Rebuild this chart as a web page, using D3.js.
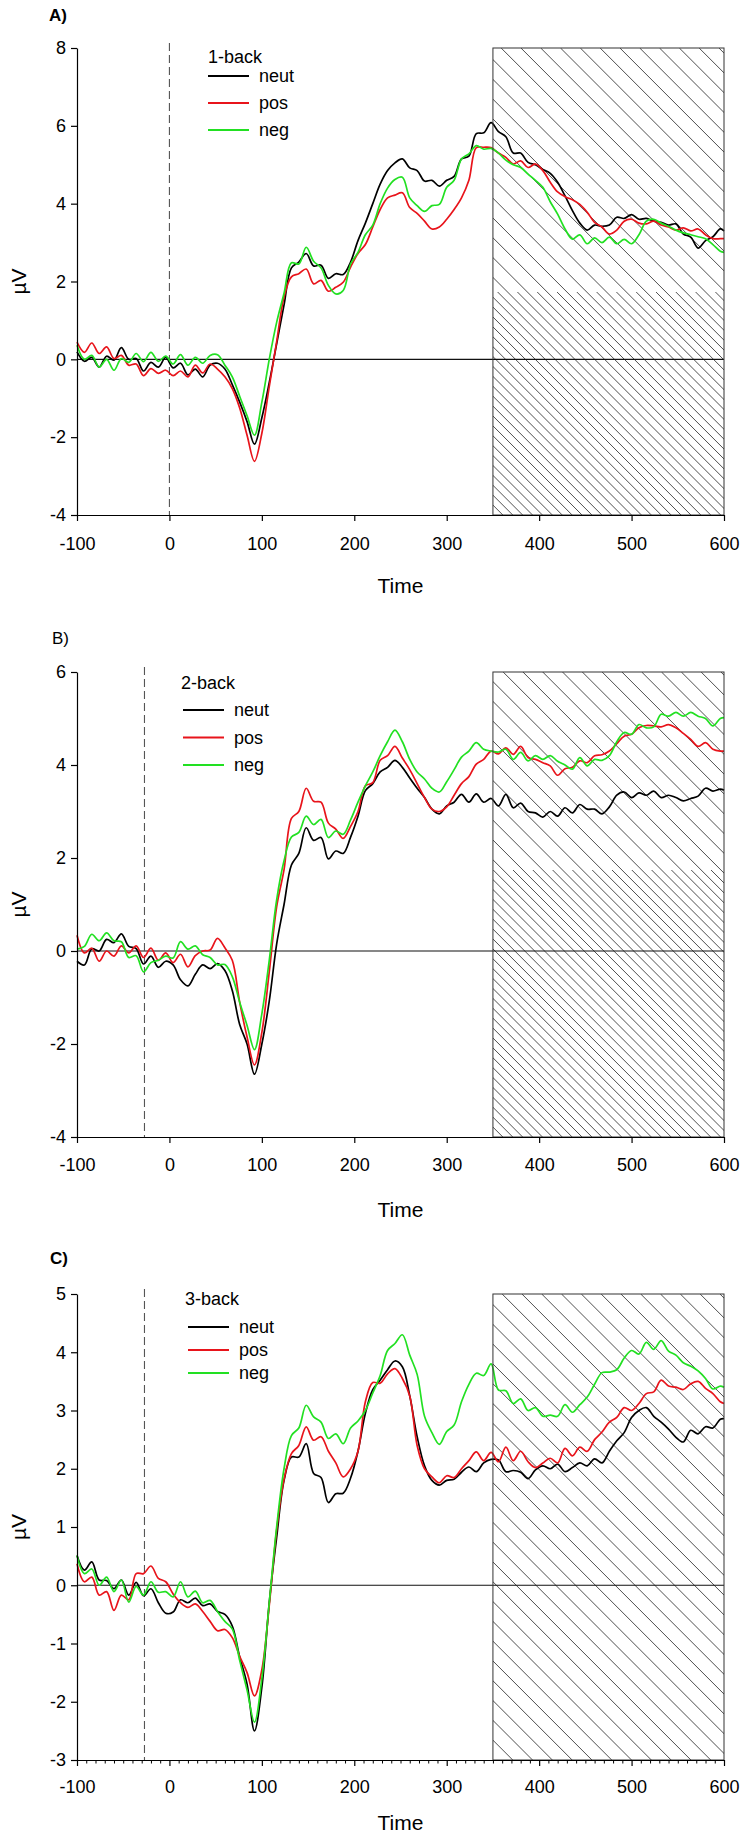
<!DOCTYPE html>
<html><head><meta charset="utf-8">
<script src="https://cdn.jsdelivr.net/npm/d3@7"></script>
<style>
body{margin:0;background:#fff}
svg{display:block}
text{font-family:"Liberation Sans",Arial,Helvetica,sans-serif;fill:#000}
</style>
</head><body>
<svg id="chart" width="746" height="1839"></svg>
<script>
// ---------------- DATA ----------------
const times = [
 -100,-92,-84,-76,-68,-60,-52,-44,
 -36,-28,-20,-12,-4,4,12,20,
 28,36,44,52,60,68,76,84,
 92,100,108,116,124,132,140,148,
 156,164,172,180,188,196,204,212,
 220,228,236,244,252,260,268,276,
 284,292,300,308,316,324,332,340,
 348,356,364,372,380,388,396,404,
 412,420,428,436,444,452,460,468,
 476,484,492,500,508,516,524,532,
 540,548,556,564,572,580,588,596,
 600];

// Panel A: 1-back
const oneBackNeut = [
 0.19,-0.05,0.05,-0.2,0.08,-0.02,0.30,0.0,
 0.02,-0.30,-0.08,-0.20,0.05,-0.22,-0.10,-0.40,
 -0.25,-0.45,-0.15,-0.10,-0.25,-0.65,-1.1,-1.6,
 -2.18,-1.5,-0.6,0.4,1.4,2.35,2.5,2.72,
 2.4,2.42,2.08,2.2,2.18,2.5,3.05,3.5,
 4.0,4.5,4.85,5.05,5.15,4.92,4.85,4.58,
 4.6,4.45,4.6,4.7,5.15,5.22,5.8,5.82,
 6.08,5.85,5.72,5.3,5.3,5.06,5.0,4.88,
 4.78,4.55,4.2,3.82,3.5,3.32,3.45,3.42,
 3.45,3.65,3.62,3.72,3.6,3.62,3.55,3.52,
 3.45,3.48,3.22,3.14,2.86,3.05,3.15,3.35,
 3.3];
const oneBackPos = [
 0.44,0.18,0.42,0.15,0.32,0.02,0.10,-0.15,
 -0.12,-0.42,-0.24,-0.36,-0.28,-0.42,-0.30,-0.45,
 -0.15,-0.35,-0.12,-0.25,-0.45,-0.75,-1.25,-1.95,
 -2.62,-1.9,-0.7,0.45,1.6,2.12,2.2,2.32,
 1.94,2.03,1.75,1.85,1.98,2.37,2.72,2.95,
 3.4,3.85,4.15,4.22,4.28,3.9,3.75,3.55,
 3.35,3.4,3.6,3.85,4.15,4.6,5.44,5.45,
 5.44,5.3,5.19,5.02,5.1,4.93,5.02,4.85,
 4.55,4.3,4.18,4.1,3.98,3.78,3.52,3.4,
 3.22,3.32,3.55,3.6,3.5,3.48,3.55,3.45,
 3.4,3.32,3.38,3.3,3.35,3.2,3.1,3.1,
 3.1];
const oneBackNeg = [
 0.36,0.0,0.10,-0.20,0.0,-0.28,0.02,-0.08,
 0.15,-0.06,0.18,-0.05,0.08,-0.12,0.12,-0.15,
 0.05,-0.10,0.10,0.12,-0.15,-0.45,-0.95,-1.45,
 -1.95,-1.1,0.0,0.95,1.7,2.48,2.45,2.88,
 2.52,2.35,1.9,1.68,1.77,2.45,2.75,3.2,
 3.45,4.0,4.4,4.62,4.68,4.15,3.95,3.8,
 3.95,3.98,4.42,4.6,5.15,5.28,5.49,5.4,
 5.42,5.3,5.12,5.0,4.93,4.76,4.6,4.42,
 4.05,3.73,3.35,3.09,3.2,2.97,3.12,3.0,
 3.14,2.97,3.08,2.97,3.2,3.55,3.6,3.5,
 3.42,3.32,3.25,3.2,3.15,3.1,2.95,2.78,
 2.75];

// Panel B: 2-back
const twoBackNeut = [
 -0.22,-0.3,0.05,0.0,0.25,0.18,0.37,0.1,
 0.05,-0.28,-0.11,-0.35,-0.22,-0.3,-0.62,-0.75,
 -0.5,-0.3,-0.38,-0.27,-0.42,-0.85,-1.58,-2.0,
 -2.65,-2.0,-1.08,0.15,1.0,1.85,2.1,2.65,
 2.38,2.44,1.98,2.15,2.1,2.45,2.9,3.45,
 3.6,3.85,3.95,4.1,3.95,3.72,3.5,3.3,
 3.05,2.95,3.12,3.2,3.37,3.2,3.38,3.2,
 3.28,3.12,3.37,3.08,3.18,3.0,2.97,2.88,
 3.0,2.9,3.08,2.97,3.15,3.05,3.05,2.95,
 3.1,3.35,3.42,3.3,3.4,3.35,3.44,3.3,
 3.35,3.3,3.23,3.28,3.33,3.5,3.44,3.48,
 3.46];
const twoBackPos = [
 0.34,-0.04,0.06,-0.22,0.0,-0.11,0.11,-0.04,
 0.11,-0.14,0.06,-0.2,-0.04,-0.25,-0.07,-0.34,
 -0.1,0.0,0.02,0.27,0.07,-0.2,-1.1,-1.85,
 -2.45,-1.75,-0.45,0.95,1.75,2.85,3.0,3.5,
 3.22,3.2,2.75,2.62,2.42,2.68,3.0,3.55,
 3.62,4.1,4.2,4.4,4.15,3.9,3.6,3.3,
 3.05,3.0,3.1,3.35,3.6,3.75,4.02,4.12,
 4.3,4.24,4.37,4.23,4.4,4.16,4.12,4.05,
 3.98,3.78,3.92,3.95,4.09,4.05,4.2,4.22,
 4.3,4.46,4.62,4.66,4.8,4.85,4.84,4.82,
 4.87,4.8,4.68,4.55,4.4,4.48,4.34,4.3,
 4.3];
const twoBackNeg = [
 0.04,0.1,0.36,0.22,0.39,0.22,0.2,-0.14,
 -0.1,-0.45,-0.25,-0.2,-0.11,-0.15,0.2,0.04,
 0.11,-0.08,-0.14,-0.3,-0.29,-0.55,-1.1,-1.6,
 -2.12,-1.35,-0.2,1.1,1.94,2.45,2.55,2.9,
 2.72,2.83,2.44,2.58,2.51,2.82,3.2,3.55,
 3.85,4.2,4.5,4.75,4.5,4.12,3.85,3.7,
 3.5,3.42,3.64,3.9,4.17,4.3,4.48,4.34,
 4.3,4.28,4.34,4.12,4.27,4.09,4.2,4.12,
 4.2,4.08,4.0,3.91,4.16,3.98,4.12,4.1,
 4.2,4.5,4.7,4.66,4.87,4.8,4.82,5.09,
 5.05,5.13,5.05,5.13,5.05,5.0,4.84,5.0,
 5.02];

// Panel C: 3-back
const threeBackNeut = [
 0.51,0.26,0.4,0.09,0.08,-0.06,0.09,-0.17,
 0.05,-0.18,-0.06,-0.3,-0.48,-0.46,-0.25,-0.3,
 -0.22,-0.35,-0.32,-0.45,-0.5,-0.7,-1.23,-1.7,
 -2.5,-1.75,-0.3,0.82,1.8,2.2,2.2,2.43,
 1.92,1.85,1.42,1.57,1.58,1.84,2.3,2.95,
 3.36,3.52,3.7,3.85,3.75,3.25,2.55,2.05,
 1.8,1.72,1.8,1.82,1.94,2.03,1.95,2.1,
 2.16,2.15,1.95,1.97,1.94,1.83,1.98,2.05,
 2.0,2.08,1.95,2.02,2.1,2.05,2.17,2.1,
 2.3,2.48,2.62,2.88,3.0,3.05,2.9,2.8,
 2.68,2.54,2.46,2.66,2.6,2.72,2.7,2.85,
 2.86];
const threeBackPos = [
 0.37,0.06,0.14,-0.17,-0.11,-0.43,-0.17,-0.25,
 0.2,0.2,0.33,0.12,0.06,-0.15,-0.3,-0.38,
 -0.32,-0.45,-0.62,-0.78,-0.76,-0.9,-1.22,-1.5,
 -1.9,-1.45,-0.35,0.95,1.82,2.26,2.4,2.72,
 2.49,2.55,2.3,2.1,1.86,2.0,2.3,3.15,
 3.48,3.47,3.63,3.72,3.55,3.25,2.4,2.0,
 1.86,1.76,1.88,1.85,2.0,2.14,2.29,2.14,
 2.28,2.12,2.37,2.14,2.3,2.12,2.02,2.1,
 2.18,2.1,2.35,2.22,2.37,2.3,2.5,2.63,
 2.8,2.88,3.05,3.0,3.12,3.29,3.32,3.52,
 3.42,3.4,3.36,3.46,3.5,3.38,3.29,3.15,
 3.12];
const threeBackNeg = [
 0.51,0.2,0.28,0.0,0.14,-0.11,0.09,-0.29,
 -0.02,-0.17,0.06,-0.12,-0.11,-0.2,0.06,-0.2,
 -0.1,-0.3,-0.26,-0.45,-0.62,-0.75,-1.29,-1.8,
 -2.35,-1.6,-0.3,1.0,2.0,2.57,2.7,3.09,
 2.89,2.8,2.52,2.6,2.43,2.7,2.82,3.0,
 3.3,3.6,4.03,4.15,4.3,3.95,3.62,2.9,
 2.62,2.42,2.64,2.75,3.15,3.45,3.64,3.6,
 3.8,3.35,3.34,3.12,3.2,3.0,3.05,2.9,
 2.92,2.9,3.1,2.97,3.1,3.23,3.45,3.65,
 3.66,3.7,3.9,4.03,3.97,4.17,4.05,4.2,
 4.02,3.95,3.82,3.76,3.68,3.55,3.37,3.42,
 3.4];

const seriesNames = ["neut", "pos", "neg"];
const legendTitles = ["1-back", "2-back", "3-back"];
const panelLabels = ["A)", "B)", "C)"];
const xTickValues = [-100, 0, 100, 200, 300, 400, 500, 600];
const yTicksA = [-4, -2, 0, 2, 4, 6, 8];
const yTicksB = [-4, -2, 0, 2, 4, 6];
const yTicksC = [-3, -2, -1, 0, 1, 2, 3, 4, 5];
const markerTimes = [0, -27, -27];
const shadedWindow = [350, 600];
const xLabel = "Time";
const yLabel = "µV";

// ---------------- LAYOUT / STYLE ----------------
const colors = {neut: "#000000", pos: "#e8141b", neg: "#22e022"};
const FONT = '"Liberation Sans", Arial, Helvetica, sans-serif';
const X0 = 77, X1 = 724;
// denseFrom: pixel row below which the hatch in the reference is drawn twice as dense (null = never)
const panels = [
  {data: [oneBackNeut, oneBackPos, oneBackNeg], yTicks: yTicksA, top: 48, bottom: 515,
   labelX: 49, labelY: 21, bold: true, tickPad: 16, titleY: 593, minor: false, denseFrom: 292,
   leg: {titleX: 208, titleY: 63, x: 208, len: 41, textX: 259, y0: 76, dy: 27}},
  {data: [twoBackNeut, twoBackPos, twoBackNeg], yTicks: yTicksB, top: 672, bottom: 1137,
   labelX: 52, labelY: 644, bold: false, tickPad: 15, titleY: 1217, minor: false, denseFrom: 870,
   leg: {titleX: 181, titleY: 689, x: 183, len: 41, textX: 234, y0: 710, dy: 27.5}},
  {data: [threeBackNeut, threeBackPos, threeBackNeg], yTicks: yTicksC, top: 1294, bottom: 1760,
   labelX: 50, labelY: 1264, bold: true, tickPad: 14, titleY: 1830, minor: true, denseFrom: null,
   leg: {titleX: 185, titleY: 1305, x: 188, len: 41, textX: 239, y0: 1327, dy: 23}}
];

const svg = d3.select("#chart");
const x = d3.scaleLinear().domain([-100, 600]).range([X0, X1]);
const fmt = d => String(d);   // plain hyphen-minus like the reference

panels.forEach((p, pi) => {
  const ticks = p.yTicks;
  const y = d3.scaleLinear().domain([ticks[0], ticks[ticks.length - 1]]).range([p.bottom, p.top]);
  const g = svg.append("g");

  // hatched window
  const hx0 = x(shadedWindow[0]), hx1 = x(shadedWindow[1]);
  const hy0 = y.range()[1], hy1 = y.range()[0];
  const H = hy1 - hy0, W = hx1 - hx0, sp = 19.8;
  const clipId = "clip" + pi;
  g.append("clipPath").attr("id", clipId).append("rect")
    .attr("x", hx0).attr("y", hy0).attr("width", W).attr("height", H);
  const hatch = g.append("g").attr("clip-path", `url(#${clipId})`);
  for (let c = -H; c < W; c += sp) {
    hatch.append("line")
      .attr("x1", hx0 + c).attr("y1", hy0)
      .attr("x2", hx0 + c + H).attr("y2", hy0 + H)
      .attr("stroke", "#222").attr("stroke-width", 0.8);
  }
  if (p.denseFrom !== null) {
    const clip2 = "clipd" + pi;
    g.append("clipPath").attr("id", clip2).append("rect")
      .attr("x", hx0).attr("y", p.denseFrom).attr("width", W).attr("height", hy1 - p.denseFrom);
    const dense = g.append("g").attr("clip-path", `url(#${clip2})`);
    for (let c = -H + sp / 2; c < W; c += sp) {
      dense.append("line")
        .attr("x1", hx0 + c).attr("y1", hy0)
        .attr("x2", hx0 + c + H).attr("y2", hy0 + H)
        .attr("stroke", "#222").attr("stroke-width", 0.8);
    }
  }

  // zero line
  g.append("line").attr("x1", X0).attr("x2", X1).attr("y1", y(0)).attr("y2", y(0))
    .attr("stroke", "#111").attr("stroke-width", 1.2);

  // dashed marker
  g.append("line").attr("x1", x(markerTimes[pi])).attr("x2", x(markerTimes[pi]))
    .attr("y1", p.top - 5).attr("y2", p.bottom)
    .attr("stroke", "#555").attr("stroke-width", 1.1).attr("stroke-dasharray", "8,4");

  // traces
  const line = d3.line().x(d => x(d[0])).y(d => y(d[1])).curve(d3.curveCatmullRom.alpha(0.5));
  p.data.forEach((vals, si) => {
    const pts = times.map((t, i) => [t, vals[i]]);
    g.append("path").attr("d", line(pts)).attr("fill", "none")
      .attr("stroke", colors[seriesNames[si]]).attr("stroke-width", 1.7)
      .attr("stroke-linejoin", "round");
  });

  // hatch border
  g.append("rect").attr("x", hx0).attr("y", hy0).attr("width", W).attr("height", H)
    .attr("fill", "none").attr("stroke", "#333").attr("stroke-width", 1);

  // axes
  const ya = g.append("g").attr("transform", `translate(${X0},0)`)
    .call(d3.axisLeft(y).tickValues(ticks).tickSize(6).tickSizeOuter(0).tickPadding(5).tickFormat(fmt));
  const xa = g.append("g").attr("transform", `translate(0,${p.bottom})`)
    .call(d3.axisBottom(x).tickValues(xTickValues).tickSize(6).tickSizeOuter(0).tickPadding(p.tickPad).tickFormat(fmt));
  [ya, xa].forEach(a => {
    a.attr("font-size", 18).attr("font-family", FONT);
    a.selectAll("path,line").attr("stroke", "#000").attr("stroke-width", 1.2);
    a.selectAll("text").attr("fill", "#000");
  });
  if (p.minor) {
    const minorTicks = d3.range(-100, 601, 10).filter(v => v % 100 !== 0);
    g.append("g").attr("transform", `translate(0,${p.bottom})`)
      .call(d3.axisBottom(x).tickValues(minorTicks).tickSize(3.5).tickSizeOuter(0).tickFormat(""))
      .call(a => a.select(".domain").remove())
      .selectAll("line").attr("stroke", "#000").attr("stroke-width", 1);
  }

  // axis titles
  g.append("text").attr("x", (X0 + X1) / 2).attr("y", p.titleY).attr("text-anchor", "middle")
    .attr("font-size", 21).text(xLabel);
  g.append("text").attr("transform", `translate(26,${(p.top + p.bottom) / 2}) rotate(-90)`)
    .attr("text-anchor", "middle").attr("font-size", 21).text(yLabel);

  // panel label
  g.append("text").attr("x", p.labelX).attr("y", p.labelY).attr("font-size", 17)
    .attr("font-weight", p.bold ? "bold" : "normal").text(panelLabels[pi]);

  // legend
  const L = p.leg;
  g.append("text").attr("x", L.titleX).attr("y", L.titleY).attr("font-size", 18).text(legendTitles[pi]);
  seriesNames.forEach((s, si) => {
    const yy = L.y0 + si * L.dy;
    g.append("line").attr("x1", L.x).attr("x2", L.x + L.len).attr("y1", yy).attr("y2", yy)
      .attr("stroke", colors[s]).attr("stroke-width", 1.8);
    g.append("text").attr("x", L.textX).attr("y", yy).attr("dy", "0.35em")
      .attr("font-size", 18).text(s);
  });
});
</script>
</body></html>
